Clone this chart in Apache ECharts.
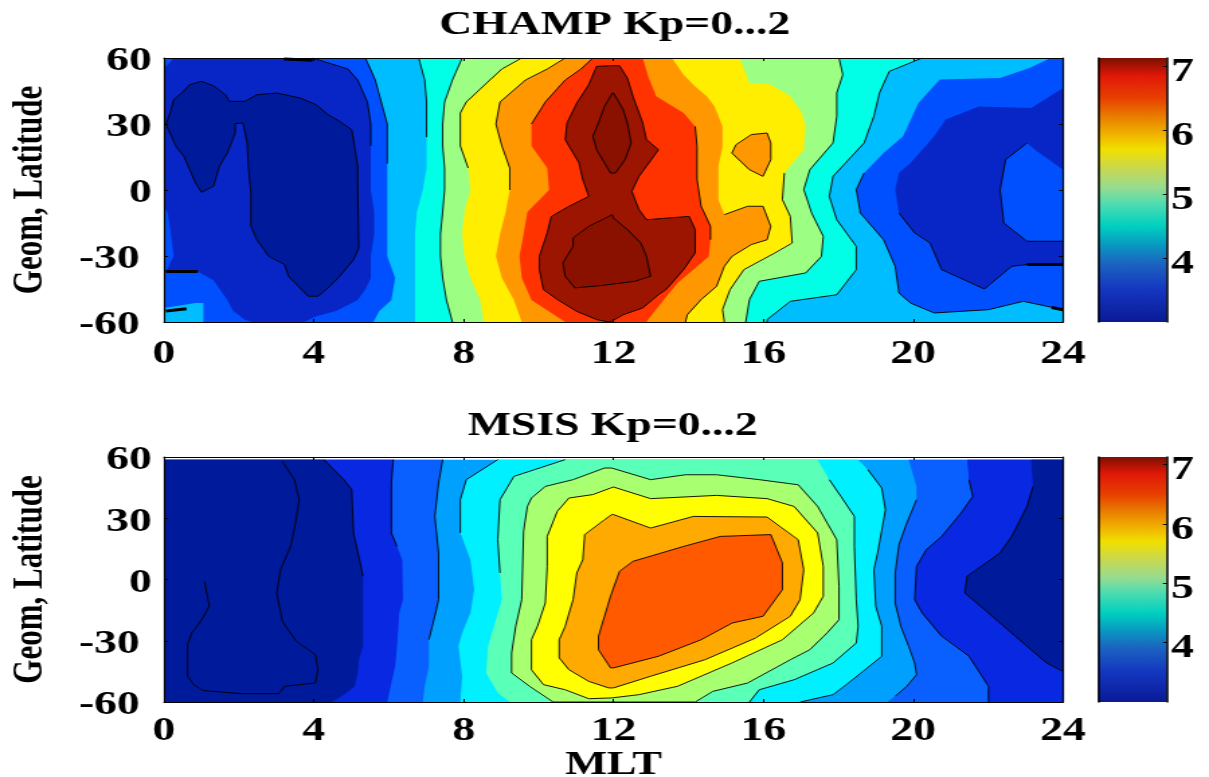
<!DOCTYPE html>
<html><head><meta charset="utf-8">
<style>
html,body{margin:0;padding:0;background:#fff;overflow:hidden;width:1209px;height:777px}
#chart{width:900px;height:777px;transform:scaleX(1.34333);transform-origin:0 0}
</style>
<script src="https://cdn.jsdelivr.net/npm/echarts@6/dist/echarts.min.js"></script>
</head><body><div id="chart"></div>
<script>
const xTicks=[0,4,8,12,16,20,24], latMin=-60, latMax=60;
const titles=['CHAMP Kp=0...2','MSIS Kp=0...2'];
const latName='Geom, Latitude', mltName='MLT';

/* fill colours of the contour bands, low to high */
const champColors=['#001a9c','#0826c6','#0050ff','#00bdff','#00ffe6','#9cff84','#ffee00','#ff9800','#ff3300','#9c1500','#8a1000'];
const msisColors=['#001a9c','#0828e2','#0a60ff','#00a0ff','#00f0ff','#5affb8','#a8ff70','#ffff00','#ffaa00','#ff5a00'];

/* CHAMP isolines, [MLT, latitude] */
const cL12a=[[0,60],[0.27,60],[0.05,56]];
const cL32=[[3.96,60],[4.91,55],[5.17,50],[5.43,40],[5.52,30],[5.52,20],[5.52,0],[5.61,-10],[5.61,-20],[5.52,-30],[5.52,-40],[5.38,-45],[5.17,-50],[4.59,-55],[4.06,-57.4],[3.74,-60],[2.37,-60],[2.16,-59],[1.85,-55],[1.69,-50],[1.32,-41],[0.9,-37],[0,-37]];
const cL43=[[5.38,60],[5.64,50],[5.8,40],[5.96,30],[5.96,12],[5.96,0],[5.96,-30],[6.17,-40],[6.07,-50],[5.75,-55],[5.59,-60]];
const cLstrip=[[0,-7.4],[0.1,-10.5],[0.18,-19.5],[0.26,-30],[0.05,-37],[0,-37]];
const cLcorner=[[0,-53.6],[0.84,-51.4],[1.05,-51.4],[1.05,-60],[0,-60]];
const cLobe=[[1,-1.06],[0.84,3.2],[0.69,9.2],[0.53,15.3],[0.32,19.8],[0.16,25.9],[0.05,29.7],[0.16,35],[0.26,41.1],[0.47,44.1],[0.69,47.9],[1,49.4],[1.32,47.4],[1.64,43.3],[1.74,40.3],[2.16,40.3],[2.48,43.3],[3.01,44.1],[3.64,41.8],[4.06,38.8],[4.38,34.2],[4.69,31.2],[5.01,27.4],[5.06,22.9],[5.17,10.8],[5.17,3.2],[5.2,-26.4],[5.06,-31.7],[4.69,-39.2],[4.38,-44.5],[4.11,-48.3],[3.85,-48.3],[3.59,-43.8],[3.32,-39.2],[3.22,-33.9],[2.8,-30.2],[2.48,-22.6],[2.32,-16.5],[2.32,-1.4],[2.25,10.8],[2.22,21.4],[2.11,30.5],[1.9,30.2],[1.9,25.9],[1.69,16.8],[1.48,10.8],[1.32,1.7]];
const cL45=[[6.8,60],[6.96,50],[7.01,40],[7.01,24],[7.01,10],[6.91,0],[6.75,-10],[6.7,-20],[6.7,-60]];
const cL56=[[7.96,60],[7.7,50],[7.49,40],[7.44,30],[7.44,20],[7.49,10],[7.49,0],[7.44,-10],[7.38,-20],[7.38,-30],[7.44,-40],[7.54,-50],[7.7,-60]];
const cL67=[[9.55,60],[9.02,55],[8.7,50],[8.07,40],[7.91,35],[7.91,20],[8.12,10],[8.18,0],[8.02,-10],[7.96,-20],[8.02,-30],[8.18,-40],[8.44,-50],[8.54,-60]];
const cL78=[[10.71,60],[10.23,55],[9.65,50],[8.97,40],[8.86,30],[9.02,20],[9.23,10],[9.23,0],[9.12,-10],[8.97,-20],[8.86,-30],[9.02,-40],[9.34,-50],[9.55,-60]];
const cL89=[[11.45,60],[11.13,55],[10.71,50],[10.18,40],[9.81,30],[9.81,20],[10.23,10],[10.28,0],[9.7,-10],[9.6,-20],[9.49,-30],[9.55,-40],[9.81,-50],[10.71,-60]];
const c10=[[11.55,56.2],[11.34,47.9],[11.02,39.5],[10.76,30.5],[10.71,22.9],[11.08,12.3],[11.18,4.7],[11.34,-2.9],[10.81,-7.4],[10.34,-12],[10.23,-19.5],[10.02,-30.2],[10.02,-36.2],[10.13,-45.3],[10.5,-49.8],[11.02,-55.2],[11.55,-58.9],[11.87,-60],[11.95,-59.7],[12.26,-56.7],[12.78,-53.6],[13.2,-47.6],[13.4,-45.3],[13.87,-36.2],[14.18,-28.6],[14.18,-18],[14.02,-12],[12.88,-13.5],[12.68,-8.9],[12.49,-0.6],[12.68,6.2],[12.88,10.8],[13.2,18.3],[12.88,22.9],[12.78,30.5],[12.52,42.6],[12.37,50.9],[12.16,56.5],[11.95,56.5]];
const c11up=[[11.97,44.1],[11.76,38],[11.6,30.5],[11.45,24.4],[11.55,18.3],[11.76,12.3],[11.92,7.7],[12.05,7.7],[12.31,13.8],[12.47,21.4],[12.37,30.5],[12.26,36.5],[12,44.1]];
const c11low=[[10.97,-44.5],[10.71,-39.2],[10.65,-33.2],[10.92,-25.6],[10.92,-21.8],[11.34,-16.5],[11.97,-11.2],[12,-12.7],[12.37,-18],[12.73,-24.1],[12.88,-30.2],[12.99,-39.2],[12.57,-41.5],[11.64,-43.5]];
const cR98=[[12.78,60],[12.94,50.9],[13.14,42.6],[13.87,35],[14.18,28.9],[14.23,19.8],[14.23,4.7],[14.34,-7.4],[14.59,-16.5],[14.59,-22.6],[14.54,-30.2],[14.13,-36.2],[13.71,-42.3],[13.35,-49.8],[12.99,-57.4],[12.88,-60]];
const cR87=[[13.56,60],[13.87,52.4],[14.18,47.1],[14.49,42.6],[14.7,38],[14.91,28.9],[14.91,19.8],[14.8,10.8],[14.8,-4.4],[14.96,-11.2],[15.58,-7.4],[15.99,-7.4],[16.2,-16.5],[16.1,-22.6],[15.68,-24.8],[15.16,-30.2],[14.96,-34.7],[14.75,-43.8],[14.34,-49.8],[13.97,-56.7],[13.92,-60]];
const cIsland=[[15.27,20.6],[15.68,25.2],[16.1,25.9],[16.2,21.4],[16.2,13.8],[15.99,6.2],[15.63,9.2],[15.16,16.8]];
const cR76=[[15.37,60],[15.63,48.6],[16.2,47.9],[16.72,42.6],[17.03,35],[17.13,28.9],[17.08,18.3],[16.56,7.7],[16.51,-4.4],[16.72,-12],[16.77,-24.1],[16.31,-28.6],[15.48,-36.2],[15.11,-45.3],[14.91,-54.4],[14.96,-60]];
const cR65=[[18.02,60],[18.12,52.4],[17.96,44.1],[17.96,33.5],[17.86,21.4],[17.24,9.2],[17.08,0.2],[17.29,-10.5],[17.6,-21.1],[17.55,-30.2],[17.13,-37.7],[15.89,-41.5],[15.63,-49.8],[15.53,-60]];
const cR54=[[20.24,60],[19.36,53.9],[19.1,44.1],[18.95,33.5],[18.69,21.4],[17.86,6.2],[17.76,-2.9],[17.96,-13.5],[18.48,-25.6],[18.48,-36.2],[17.96,-47.6],[16.72,-50.6],[16.1,-58.9],[16.1,-60]];
const cR43=[[23.67,60],[23.1,55.5],[22.32,50.9],[20.71,50.2],[20.14,39.5],[19.73,24.4],[19.21,16.8],[18.69,7.7],[18.48,0.2],[18.59,-10.5],[19.21,-22.6],[19.52,-34.7],[19.62,-46.8],[19.93,-51.4],[20.56,-55.9],[22.01,-54.4],[22.94,-50.6],[24,-54.4]];
const cR32=[[24,46.4],[23.15,37.3],[21.75,38],[20.87,32],[20.56,24.4],[19.93,12.3],[19.62,7.7],[19.52,0.2],[19.62,-10.5],[20.04,-19.5],[20.45,-24.1],[20.76,-36.2],[21.9,-45],[22.63,-34.7],[23.04,-33.9],[24,-33.9]];
const cRisland=[[23.04,21.4],[22.47,13.8],[22.32,0.2],[22.42,-15],[23.04,-23.3],[24,-23.3],[24,9.2],[23.25,18.3]];
const cThick=[[[0.05,-37],[0.9,-37]],[[0.05,-55],[0.6,-54]],[[23.04,-33.9],[24,-33.9]],[[23.7,-53.4],[24,-54.4]],[[3.2,59.6],[3.96,59]]];

/* MSIS isolines, [MLT, latitude] */
const mTop=58.7;
const mL21=[[4.27,mTop],[4.8,48.9],[5.01,44],[5.06,22.8],[5.22,9.7],[5.31,1.6],[5.31,-32.7],[5.2,-39.3],[5.17,-45.8],[5.09,-52.3],[4.8,-56.4],[4.48,-60]];
const mL32=[[6.12,mTop],[6.07,47.3],[6.07,22.8],[6.22,16.2],[6.36,9.7],[6.38,-9.9],[6.28,-16.4],[6.22,-32.7],[6.17,-42.5],[6.07,-50.7],[5.96,-60]];
const mL43=[[7.44,mTop],[7.33,47.3],[7.23,30.9],[7.33,13],[7.33,-9.9],[7.23,-18],[7.07,-29.5],[7.07,-42.5],[6.96,-52.3],[6.91,-60]];
const mL45=[[8.91,mTop],[8.07,48.9],[7.91,39.1],[7.91,22.8],[8.18,9.7],[8.28,-5],[8.18,-16.4],[7.96,-26.2],[7.86,-32.7],[7.96,-47.4],[7.91,-60]];
const mL56=[[10.71,mTop],[9.34,50.5],[8.97,39.1],[8.91,19.5],[8.97,3.2],[9.02,-9.9],[8.81,-22.9],[8.65,-32.7],[8.6,-45.8],[8.91,-55.6],[9.23,-60]];
const mR56=[[15.63,-60],[15.89,-54],[16.82,-49.1],[17.86,-40.9],[18.48,-31.1],[18.53,-22.9],[18.48,-9.9],[18.43,16.2],[18.43,30.9],[18.07,40.7],[17.76,48.9],[17.45,mTop]];
const mR45=[[16.98,-60],[17.86,-56.4],[18.27,-50.7],[19.16,-37.6],[19.16,-22.9],[19,-13.1],[18.95,4.8],[19.05,13],[19.26,34.2],[19.16,44.8],[18.79,53.8],[18.53,mTop]];
const mR34=[[19.31,-60],[19.52,-57.2],[19.83,-52.3],[20.09,-46.6],[20.04,-40.9],[19.88,-32.7],[19.67,-22.9],[19.52,-11.5],[19.52,3.2],[19.62,17],[19.83,27.7],[20.09,39.1],[20.09,45.6],[19.88,mTop]];
const mR23=[[21.44,mTop],[21.49,48.9],[21.59,40.7],[21.28,32.6],[20.76,21.1],[20.35,14.6],[20.09,6.4],[20.04,-9.9],[20.24,-16.4],[20.76,-27.8],[21.49,-37.6],[22.01,-52.3],[22.01,-60]];
const mR12=[[23.15,mTop],[23.2,45.6],[23.04,35.8],[22.63,21.1],[22.32,13],[21.44,1.6],[21.38,-6.6],[22.01,-16.4],[22.73,-27.8],[23.56,-40.9],[24,-45]];
const mRing7=[[11.76,54.6],[10.92,48.9],[10.18,45.6],[9.81,39.9],[9.7,35.8],[9.6,23.6],[9.55,-9.9],[9.39,-22.9],[9.28,-36],[9.28,-45.8],[9.76,-52.3],[10.39,-60],[14.18,-60],[14.65,-54.8],[15.58,-50.7],[16.72,-39.3],[17.24,-34.4],[17.7,-26.2],[18.02,-19.7],[18.02,-3.3],[17.96,19.5],[17.45,35.8],[16.93,46.4],[15.89,48.9],[14.75,51.3],[13.92,51.3],[12.99,48.9],[11.95,54.6]];
const mRing8=[[11.92,44.8],[11.45,41.6],[10.81,39.9],[10.5,33.4],[10.23,21.1],[10.23,6.4],[10.18,-11.5],[9.97,-22.9],[9.81,-29.5],[9.81,-44.2],[10.13,-51.5],[10.71,-54],[11.34,-58.4],[11.95,-58],[12.68,-56.4],[13.71,-52.3],[15.16,-40.9],[16.51,-29.5],[17.34,-16.4],[17.6,-8.2],[17.6,6.4],[17.45,22.8],[16.82,35.8],[16.1,39.6],[14.75,41.2],[12.99,39.6],[12,45.3]];
const mRing9=[[11.95,31.8],[11.76,29.3],[11.23,22],[11.18,9.7],[11.02,3.2],[10.92,-9.9],[10.71,-22.9],[10.55,-29.5],[10.55,-38.4],[10.81,-44.2],[11.34,-49.9],[11.87,-53.1],[12,-53.1],[12.99,-47.4],[14.44,-39.3],[15.79,-28.7],[16.72,-18],[16.98,-9.9],[17.08,4.8],[16.93,19.5],[16.1,30.6],[14.13,30.9],[12.99,25.2],[12,31.8]];
const mRing10=[[12.16,4],[11.92,-8.2],[11.76,-18],[11.6,-27.8],[11.6,-34.4],[11.92,-43.3],[12,-43.3],[13.2,-37.6],[14.34,-29.5],[15.17,-21.3],[15.99,-18],[16.51,-5],[16.51,8.1],[16.2,22],[14.85,21.1],[13.87,16.2],[12.52,8.9]];
const mInner=[[1.08,-0.9],[1.16,-8.2],[1.21,-13.1],[0.95,-21.3],[0.74,-26.2],[0.63,-31.9],[0.63,-47.4],[0.79,-51.5],[1.05,-54.4],[2.06,-55.9],[3.06,-55.9],[3.22,-52.3],[4.04,-50.7],[4.11,-44.2],[4.04,-36.8],[3.53,-30.3],[3.16,-20.5],[3.01,-6.6],[3.11,4.8],[3.38,16.2],[3.51,27.7],[3.61,39.1],[3.48,48.9],[3.16,57.9]];

/* colour bar */
const cbarTicks=[4,5,6,7];
const cbarStops=[[3,'#0a1a96'],[3.5,'#1436c0'],[3.9,'#1c62c0'],[4.2,'#0a98c0'],[4.5,'#00d0c0'],[4.85,'#50dcb0'],[5.1,'#96dc90'],[5.4,'#c8d850'],[5.7,'#f0e000'],[5.95,'#f0b000'],[6.2,'#e88000'],[6.5,'#e84000'],[6.85,'#e01808'],[7.13,'#7c1000']];

const rev=a=>a.slice().reverse();
const champBands=[
 [3,[[0,60],[24,60],[24,-60],[0,-60]]],
 [2,[[0,60]].concat(cL43,[[0,-60]])],
 [2,cR43.concat([[24,60]])],
 [1,cL32.concat([[0,60]])],
 [1,cR32],
 [2,cLstrip],[2,cL12a],[3,cLcorner],[2,cRisland],
 [0,cLobe],
 [4,cL45.concat(rev(cR54))],
 [5,cL56.concat(rev(cR65))],
 [6,cL67.concat(rev(cR76))],
 [7,cL78.concat(rev(cR87))],
 [7,cIsland],
 [8,cL89.concat(rev(cR98))],
 [9,c10],[10,c11up],[10,c11low]
];
const msisBands=[
 [3,[[0,mTop],[24,mTop],[24,-60],[0,-60]]],
 [2,[[0,mTop]].concat(mL43,[[0,-60]])],
 [2,rev(mR34).concat([[24,-60],[24,mTop]])],
 [1,[[0,mTop]].concat(mL32,[[0,-60]])],
 [1,mR23.concat([[24,-60],[24,mTop]])],
 [0,[[0,mTop]].concat(mL21,[[0,-60]])],
 [0,mR12.concat([[24,mTop]])],
 [4,mL45.concat(mR45)],
 [5,mL56.concat(mR56)],
 [6,mRing7],[7,mRing8],[8,mRing9],[9,mRing10]
];
const ring=a=>a.concat([a[0]]);
const part=(a,lo,hi)=>a.filter(p=>p[1]>=lo&&p[1]<=hi);
const champLines=[part(cL32,20,60),part(cL43,5,60),part(cL45,22,60),cL56,part(cL67,8,60),part(cL78,-5,60),part(cL89,28,60),
 ring(cLobe),ring(c10),ring(c11up),ring(c11low),ring(cIsland),part(cR98,-30,30),part(cR87,-60,-5),part(cR76,-60,10),cR65,cR54,part(cR43,-60,8),cR32.slice(8,15),cRisland.slice(0,6)];
const msisLines=[part(mL21,0,60),part(mL32,10,60),part(mL43,-37,60),part(mL45,15,60),part(mL56,3,60),
 ring(mRing7),ring(mRing8),ring(mRing9),ring(mRing10),mInner,mR56.slice(0,11),mR45.slice(0,11),mR34.slice(1,12),mR23.slice(1),mR12.slice(1)];

const W=900,sx=1209/W;
const px=v=>v/sx;
const plotL=px(164),plotW=px(899),barL=px(1098),barW=px(69);
const panels=[
 {top:58,h:264,bands:champBands,colors:champColors,lines:champLines,thick:cThick,barMax:7.13,titleTop:3,titleX:608,labelMargin:15},
 {top:457,h:245,bands:msisBands,colors:msisColors,lines:msisLines,thick:[],barMax:7.13,titleTop:404,titleX:606,labelMargin:12}
];
const font={fontFamily:'Liberation Serif',fontWeight:'bold',color:'#000'};
const opt={animation:false,backgroundColor:'#fff',title:[],grid:[],xAxis:[],yAxis:[],series:[]};
panels.forEach((p,i)=>{
 const g=opt.grid.length;
 opt.title.push({text:titles[i],left:px(p.titleX),top:p.titleTop,textAlign:'center',textStyle:{...font,fontSize:34,fontWeight:'bold'}});
 opt.grid.push({left:plotL,width:plotW,top:p.top,height:p.h,show:false,outerBoundsMode:'none'});
 opt.grid.push({left:barL,width:barW,top:p.top,height:p.h,show:false,outerBoundsMode:'none'});
 const ax={min:0,max:24,interval:4,type:'value',gridIndex:g,splitLine:{show:false},z:10,
  axisLine:{onZero:false,lineStyle:{color:'#000',width:1.2}},axisTick:{inside:true,length:3,lineStyle:{color:'#000'}}};
 opt.xAxis.push({...ax,position:'bottom',axisLabel:{...font,fontSize:34,margin:p.labelMargin,hideOverlap:false,showMinLabel:true,showMaxLabel:true},
   ...(i?{name:mltName,nameLocation:'middle',nameGap:47,nameTextStyle:{...font,fontSize:33}}:{})});
 const bx=opt.xAxis.length-1;
 opt.xAxis.push({...ax,position:'top',axisLabel:{show:false}});
 const ay={min:latMin,max:latMax,interval:30,type:'value',gridIndex:g,splitLine:{show:false},z:10,
  axisLine:{onZero:false,lineStyle:{color:'#000',width:1.2}},axisTick:{inside:true,length:3,lineStyle:{color:'#000'}}};
 opt.yAxis.push({...ay,position:'left',name:latName,nameLocation:'middle',nameGap:84,nameTextStyle:{...font,fontSize:31},
   axisLabel:{...font,fontSize:34,margin:9,formatter:v=>v<0?'{n|'+v+'}':'{p|'+v+'}',
     rich:{n:{...font,fontSize:34,padding:[7,9,0,0]},p:{...font,fontSize:34,padding:[7,0,0,0]}}}});
 const by=opt.yAxis.length-1;
 opt.yAxis.push({...ay,position:'right',axisLabel:{show:false}});
 opt.series.push({type:'custom',xAxisIndex:bx,yAxisIndex:by,silent:true,z:2,clip:true,
  data:p.bands.map((b,k)=>[k]),
  renderItem:(params,api)=>{const b=p.bands[api.value(0)];
   return {type:'polygon',shape:{points:b[1].map(q=>api.coord(q))},style:{fill:p.colors[b[0]],stroke:null}};}});
 p.lines.forEach(l=>opt.series.push({type:'line',xAxisIndex:bx,yAxisIndex:by,data:l,showSymbol:false,silent:true,z:4,
   lineStyle:{color:'#000',width:0.9},clip:true}));
 p.thick.forEach(l=>opt.series.push({type:'line',xAxisIndex:bx,yAxisIndex:by,data:l,showSymbol:false,silent:true,z:4,
   lineStyle:{color:'#000',width:3},clip:true}));
 /* colour bar */
 opt.xAxis.push({type:'value',min:0,max:1,gridIndex:g+1,show:false});
 const cx=opt.xAxis.length-1;
 const cb={type:'value',min:3,max:p.barMax,interval:1,gridIndex:g+1,splitLine:{show:false},z:10,
  axisLine:{onZero:false,lineStyle:{color:'#000',width:1.5}},axisTick:{inside:true,length:3,lineStyle:{color:'#000'}}};
 opt.yAxis.push({...cb,position:'right',axisLabel:{...font,fontSize:34,margin:3,showMinLabel:false,showMaxLabel:false,
   formatter:v=>cbarTicks.includes(v)?'{c|'+v+'}':'',rich:{c:{...font,fontSize:34,padding:[12,0,0,0]}}}});
 const cy=opt.yAxis.length-1;
 opt.yAxis.push({...cb,position:'left',axisLabel:{show:false},axisTick:{show:false}});
 opt.series.push({type:'custom',xAxisIndex:cx,yAxisIndex:cy,silent:true,z:2,data:[[0,3,1,p.barMax]],
  renderItem:(params,api)=>{
   const a=api.coord([api.value(0),api.value(3)]),b=api.coord([api.value(2),api.value(1)]);
   const stops=cbarStops.map(s=>({offset:Math.max(0,Math.min(1,(p.barMax-s[0])/(p.barMax-3))),color:s[1]})).reverse();
   return {type:'rect',shape:{x:a[0],y:a[1],width:b[0]-a[0],height:b[1]-a[1]},
    style:{fill:{type:'linear',x:0,y:0,x2:0,y2:1,colorStops:stops}}};}});
});
const chart=echarts.init(document.getElementById('chart'),null,{renderer:'canvas',width:W,height:777});
chart.setOption(opt);
</script>
</body></html>
